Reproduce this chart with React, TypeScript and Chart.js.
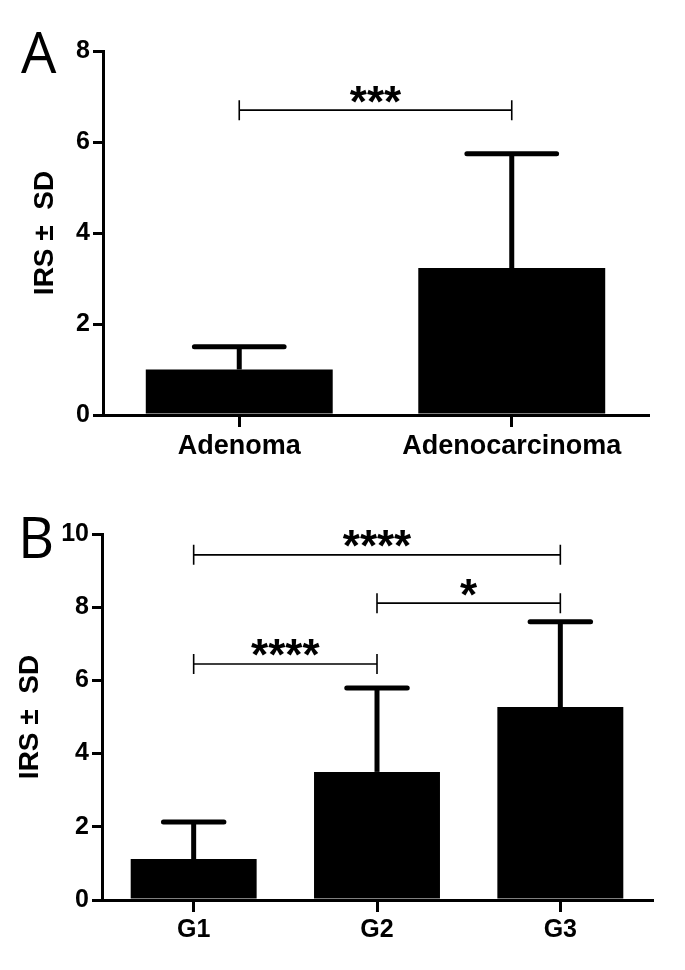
import React, { useEffect, useRef } from "react";
import { Chart, registerables } from "chart.js";
Chart.register(...registerables);

const FONT = "'Liberation Sans', Arial, sans-serif";

// Panel A data
const categoriesA = ["Adenoma", "Adenocarcinoma"];
const meansA = [1.0, 3.23];
const sdA = [0.5, 2.51];
const yMaxA = 8;
const bracketsA = [{ from: 0, to: 1, y: 6.7, label: "***" }];

// Panel B data
const categoriesB = ["G1", "G2", "G3"];
const meansB = [1.12, 3.5, 5.27];
const sdB = [1.01, 2.29, 2.33];
const yMaxB = 10;
const bracketsB = [
  { from: 0, to: 2, y: 9.43, label: "****" },
  { from: 1, to: 2, y: 8.11, label: "*" },
  { from: 0, to: 1, y: 6.45, label: "****" },
];

const yTitle = "IRS \u00B1  SD";
const yStep = 2;

type Bracket = { from: number; to: number; y: number; label: string };

type PanelCfg = {
  letter: string;
  letterX: number;
  letterY: number;
  labels: string[];
  means: number[];
  sds: number[];
  yMax: number;
  brackets: Bracket[];
  width: number;
  height: number;
  padTop: number;
  padRight: number;
  yWidth: number;
  xHeight: number;
  titlePad: number;
  xFont: number;
  barPct: number;
};

function makeChart(canvas: HTMLCanvasElement, c: PanelCfg) {
  const overlay = {
    id: "overlay",
    afterDatasetsDraw(chart: any) {
      const ctx = chart.ctx as CanvasRenderingContext2D;
      const meta = chart.getDatasetMeta(0);
      const ys = chart.scales.y;
      const xs = chart.scales.x;
      ctx.save();
      // error bars
      ctx.strokeStyle = "#000";
      c.means.forEach((m, i) => {
        const el = meta.data[i];
        const x = el.x;
        const yb = ys.getPixelForValue(m);
        const yt = ys.getPixelForValue(m + c.sds[i]);
        const half = el.width * 0.24;
        ctx.lineWidth = 5;
        ctx.lineCap = "butt";
        ctx.beginPath();
        ctx.moveTo(x, yb);
        ctx.lineTo(x, yt);
        ctx.stroke();
        ctx.lineCap = "round";
        ctx.beginPath();
        ctx.moveTo(x - half, yt);
        ctx.lineTo(x + half, yt);
        ctx.stroke();
      });
      // significance brackets
      c.brackets.forEach((b) => {
        const x1 = xs.getPixelForValue(b.from);
        const x2 = xs.getPixelForValue(b.to);
        const y = ys.getPixelForValue(b.y);
        ctx.lineWidth = 1.6;
        ctx.lineCap = "butt";
        ctx.beginPath();
        ctx.moveTo(x1, y);
        ctx.lineTo(x2, y);
        ctx.moveTo(x1, y - 10);
        ctx.lineTo(x1, y + 10);
        ctx.moveTo(x2, y - 10);
        ctx.lineTo(x2, y + 10);
        ctx.stroke();
        ctx.font = "bold 44px " + FONT;
        ctx.fillStyle = "#000";
        ctx.textAlign = "center";
        ctx.textBaseline = "alphabetic";
        const mt = ctx.measureText(b.label);
        const center = y - 16;
        const base = center + (mt.actualBoundingBoxAscent - mt.actualBoundingBoxDescent) / 2;
        ctx.fillText(b.label, (x1 + x2) / 2, base);
      });
      // panel letter
      ctx.font = "56px 'Open Sans', 'Liberation Sans', sans-serif";
      ctx.textAlign = "left";
      ctx.textBaseline = "alphabetic";
      ctx.fillStyle = "#000";
      ctx.fillText(c.letter, c.letterX, c.letterY);
      ctx.restore();
    },
  };

  return new Chart(canvas, {
    type: "bar",
    data: {
      labels: c.labels,
      datasets: [
        {
          data: c.means,
          backgroundColor: "#000",
          borderWidth: 0,
          barPercentage: c.barPct,
          categoryPercentage: 1,
        },
      ],
    },
    options: {
      responsive: false,
      animation: false,
      devicePixelRatio: 1,
      layout: { padding: { top: c.padTop, right: c.padRight, left: 0, bottom: 0 } },
      plugins: { legend: { display: false }, tooltip: { enabled: false } },
      scales: {
        x: {
          offset: true,
          afterFit: (s: any) => {
            s.height = c.xHeight;
          },
          grid: {
            offset: false,
            drawOnChartArea: false,
            drawTicks: true,
            tickLength: 12,
            color: "#000",
            lineWidth: 3,
          },
          border: { display: true, color: "#000", width: 3 },
          ticks: {
            color: "#000",
            padding: 3,
            font: { family: FONT, size: c.xFont, weight: "bold" },
            maxRotation: 0,
            autoSkip: false,
          },
        },
        y: {
          min: 0,
          max: c.yMax,
          afterFit: (s: any) => {
            s.width = c.yWidth;
          },
          grid: {
            drawOnChartArea: false,
            drawTicks: true,
            tickLength: 10,
            color: "#000",
            lineWidth: 3,
          },
          border: { display: true, color: "#000", width: 3 },
          ticks: {
            stepSize: yStep,
            color: "#000",
            padding: 3,
            font: { family: FONT, size: 25, weight: "bold" },
          },
          title: {
            display: true,
            text: yTitle,
            color: "#000",
            padding: { top: c.titlePad, bottom: 0 },
            font: { family: FONT, size: 28, weight: "bold" },
          },
        },
      },
    },
    plugins: [overlay],
  } as any);
}

function Panel({ cfg, top }: { cfg: PanelCfg; top: number }) {
  const ref = useRef<HTMLCanvasElement>(null);
  useEffect(() => {
    if (!ref.current) return;
    const ch = makeChart(ref.current, cfg);
    return () => ch.destroy();
  }, []);
  return (
    <canvas
      ref={ref}
      width={cfg.width}
      height={cfg.height}
      style={{ position: "absolute", left: 0, top, width: cfg.width, height: cfg.height, display: "block" }}
    />
  );
}

const cfgA: PanelCfg = {
  letter: "A",
  letterX: 21,
  letterY: 73,
  labels: categoriesA,
  means: meansA,
  sds: sdA,
  yMax: yMaxA,
  brackets: bracketsA,
  width: 685,
  height: 480,
  padTop: 51,
  padRight: 37,
  yWidth: 103,
  xHeight: 65,
  titlePad: 28,
  xFont: 27,
  barPct: 0.686,
};

const cfgB: PanelCfg = {
  letter: "B",
  letterX: 18,
  letterY: 78,
  labels: categoriesB,
  means: meansB,
  sds: sdB,
  yMax: yMaxB,
  brackets: bracketsB,
  width: 685,
  height: 490,
  padTop: 54,
  padRight: 33,
  yWidth: 102,
  xHeight: 70,
  titlePad: 13,
  xFont: 25,
  barPct: 0.687,
};

export default function App() {
  return (
    <div style={{ position: "absolute", left: 0, top: 0, width: 685, height: 970, background: "#fff" }}>
      <Panel cfg={cfgA} top={0} />
      <Panel cfg={cfgB} top={480} />
    </div>
  );
}
